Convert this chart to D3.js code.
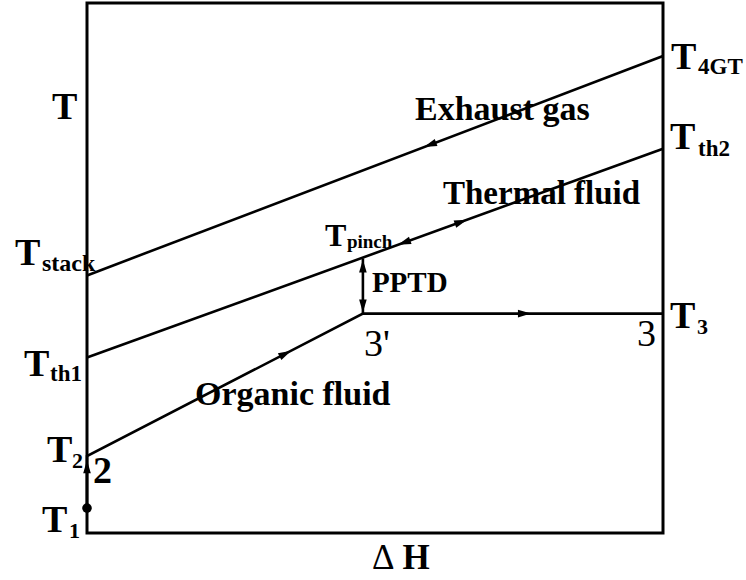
<!DOCTYPE html>
<html>
<head>
<meta charset="utf-8">
<script src="https://cdn.jsdelivr.net/npm/d3@7"></script>
<style>
  html, body { margin: 0; padding: 0; background: #fff; }
  svg text { font-family: "Liberation Serif", "DejaVu Serif", serif; fill: #000; }
</style>
</head>
<body>
<svg id="chart" width="746" height="580"></svg>
<script>
// ---- data (ΔH in % of total heat, T in relative units) ----
const exhaustGasDH = [0, 100];
const exhaustGasT  = [48.6, 90.0];      // T_stack -> T_4GT
const thermalFluidDH = [0, 100];
const thermalFluidT  = [33.1, 72.5];    // T_th1 -> T_th2
const organicFluidDH = [0, 0, 47.9, 100];
const organicFluidT  = [4.7, 14.5, 41.4, 41.4]; // 1 -> 2 -> 3' -> 3
const pinchDH = 47.9;
const pinchT  = 51.8;

const svg = d3.select("#chart");
const x = d3.scaleLinear().domain([0, 100]).range([87, 663]);
const y = d3.scaleLinear().domain([0, 100]).range([533, 3]);

const zip = (a, b) => a.map((v, i) => [v, b[i]]);
const line = d3.line().x(d => x(d[0])).y(d => y(d[1]));

// frame
svg.append("rect")
  .attr("x", x(0)).attr("y", y(100))
  .attr("width", x(100) - x(0)).attr("height", y(0) - y(100))
  .attr("fill", "none").attr("stroke", "#000").attr("stroke-width", 3);

const drawLine = pts => svg.append("path").attr("d", line(pts))
  .attr("fill", "none").attr("stroke", "#000").attr("stroke-width", 2.6);

const exhaust = zip(exhaustGasDH, exhaustGasT);
const thermal = zip(thermalFluidDH, thermalFluidT);
const organic = zip(organicFluidDH, organicFluidT);
drawLine(exhaust);
drawLine(thermal);
drawLine(organic);

// pinch (PPTD) vertical segment
drawLine([[pinchDH, pinchT], [organicFluidDH[2], organicFluidT[2]]]);

// arrowhead: tip at pixel (tx,ty), direction angle from (fx,fy)
function arrowHead(fx, fy, tx, ty, len = 13, hw = 3.8) {
  const a = Math.atan2(ty - fy, tx - fx);
  const bx = tx - len * Math.cos(a), by = ty - len * Math.sin(a);
  const nx = -Math.sin(a) * hw, ny = Math.cos(a) * hw;
  svg.append("path")
    .attr("d", `M${tx},${ty}L${bx + nx},${by + ny}L${bx - nx},${by - ny}Z`)
    .attr("fill", "#000");
}
// arrow on a data segment at fraction f, pointing from p to q
function arrowOn(p, q, f) {
  const px = x(p[0]), py = y(p[1]), qx = x(q[0]), qy = y(q[1]);
  const tx = px + (qx - px) * f, ty = py + (qy - py) * f;
  arrowHead(px, py, tx, ty);
}
arrowOn(exhaust[1], exhaust[0], 0.415);   // exhaust gas flows to the left
arrowOn(thermal[1], thermal[0], 0.46);    // thermal fluid double arrow
arrowOn(thermal[0], thermal[1], 0.66);
arrowOn(organic[1], organic[2], 0.74);    // organic fluid heating
arrowOn(organic[2], organic[3], 0.56);    // evaporation
// 1 -> 2 (pump)
arrowHead(x(0), y(organicFluidT[0]), x(0), y(organicFluidT[1]) + 4);
// PPTD double arrow
arrowHead(x(pinchDH), y(organicFluidT[2]), x(pinchDH), y(pinchT) + 1);
arrowHead(x(pinchDH), y(pinchT), x(pinchDH), y(organicFluidT[2]) - 1);

// state point 1
svg.append("circle").attr("cx", x(0)).attr("cy", y(organicFluidT[0]))
  .attr("r", 4.8).attr("fill", "#000");

// labels
function tLabel(tx, ty, sub, sx, sdy, big = 38, small = 23) {
  const t = svg.append("text").attr("x", tx).attr("y", ty)
    .attr("font-weight", "bold").attr("font-size", big);
  t.append("tspan").text("T");
  t.append("tspan").attr("x", sx).attr("dy", sdy).attr("font-size", small).text(sub);
}
// axis title T
svg.append("text").attr("x", 52).attr("y", 119).attr("font-weight", "bold")
  .attr("font-size", 38).text("T");

tLabel(x(100) + 8, y(exhaustGasT[1]) + 13, "4GT", x(100) + 35, 5);
tLabel(x(100) + 7, y(thermalFluidT[1]), "th2", x(100) + 35, 7);
tLabel(15, y(exhaustGasT[0]) - 10, "stack", 42, 6, 38, 24);
tLabel(24, y(thermalFluidT[0]) + 18, "th1", 50, 5);
tLabel(x(pinchDH) - 38, y(pinchT) - 12, "pinch", x(pinchDH) - 16, 2, 32, 19);
tLabel(47, y(organicFluidT[1]) + 6, "2", 72, 6, 38, 22);
tLabel(42, y(organicFluidT[0]) + 24, "1", 69, 6, 38, 22);
tLabel(x(100) + 7, y(organicFluidT[3]) + 14, "3", x(100) + 34, 6, 38, 22);

// state point numbers
svg.append("text").attr("x", 93).attr("y", y(organicFluidT[1]) + 27)
  .attr("font-weight", "bold").attr("font-size", 38).text("2");
svg.append("text").attr("x", x(organicFluidDH[2]) + 1).attr("y", y(organicFluidT[2]) + 42)
  .attr("font-size", 38).text("3'");
svg.append("text").attr("x", x(100) - 26).attr("y", y(organicFluidT[3]) + 32)
  .attr("font-size", 38).text("3");

// stream names
const bold = (tx, ty, s, fs) => svg.append("text").attr("x", tx).attr("y", ty)
  .attr("font-weight", "bold").attr("font-size", fs).text(s);
bold(415, 120, "Exhaust gas", 34);
bold(443, 204, "Thermal fluid", 33);
bold(195, 405, "Organic fluid", 34);
bold(x(pinchDH) + 9, 292, "PPTD", 29);

// ΔH axis title
const dh = svg.append("text").attr("x", 372).attr("y", 569).attr("font-size", 35);
dh.append("tspan").text("Δ");
dh.append("tspan").attr("dx", 8).attr("font-weight", "bold").text("H");
</script>
</body>
</html>
